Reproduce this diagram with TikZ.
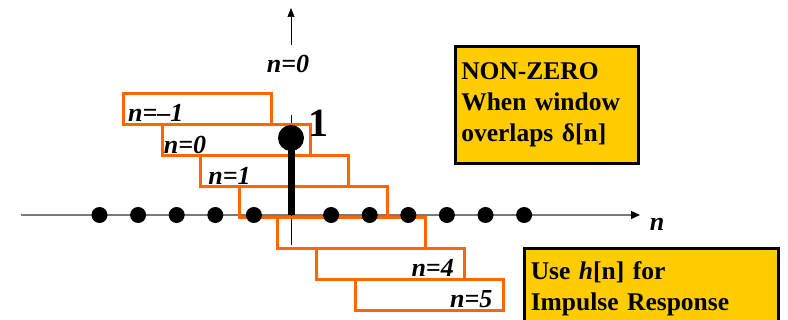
\documentclass[tikz,border=0pt]{standalone}
\usepackage{fontspec}
\setmainfont{Liberation Serif}
\usetikzlibrary{arrows.meta}
\definecolor{winorange}{RGB}{255,102,0}
\definecolor{noteyellow}{RGB}{255,204,0}
\definecolor{axisgray}{RGB}{120,120,120}

\tikzset{
  window/.style={draw=winorange,line width=3pt,minimum width=148pt,minimum height=31pt,
    anchor=north west,inner sep=0pt},
  sample/.style={circle,fill=black,inner sep=0pt,minimum size=16pt},
  nlabel/.style={font=\fontsize{26}{30}\selectfont\bfseries\itshape,inner sep=0pt},
  notebox/.style={draw=black,line width=2.6pt,fill=noteyellow,anchor=north west,
    font=\fontsize{25.5}{31}\selectfont\bfseries,align=left,inner sep=0pt}
}

\begin{document}
\begin{tikzpicture}[x=1pt,y=-1pt]
  \useasboundingbox (0,0) rectangle (788,320);
  \coordinate (L) at (21,215);
  \coordinate (R) at (640,215);
  \coordinate (T) at (291,8);
  \coordinate (B) at (291,45);
  \coordinate (base) at (291,245);
  \coordinate (zero) at (291,215);
  % axes
  \draw[axisgray,line width=1.4pt,-{Triangle[black,length=9pt,width=8pt]}] (L) -- (R);
  \draw[line width=0.6pt,-{Triangle[length=9pt,width=7pt]}] (B) -- (T);
  \draw[line width=0.6pt] (base) -- (291,115);
  % sliding windows
  \foreach \k in {0,...,6}
    \node[window] (w\k) at ({122+38.6*\k},{92+31*\k}) {};
  \node[nlabel,anchor=base west] at ([shift={(6,-4)}]w0.south west) {n=--1};
  \node[nlabel,anchor=base west] at ([shift={(3,-3)}]w1.south west) {n=0};
  \node[nlabel,anchor=base west] at ([shift={(9,-3)}]w2.south west) {n=1};
  \node[nlabel,anchor=base east] at ([shift={(-12,-4)}]w5.south east) {n=4};
  \node[nlabel,anchor=base east] at ([shift={(-12,-4)}]w6.south east) {n=5};
  % samples
  \foreach \k in {-5,...,-1,1,2,...,6}
    \node[sample] (s\k) at ({292.5+38.6*\k},215) {};
  \node[sample,minimum size=26pt] (peak) at (291,138) {};
  \draw[line width=7pt] (zero) -- (peak.center);
  \node[font=\fontsize{40}{44}\selectfont\bfseries,anchor=base west,inner sep=0pt]
    (one) at (308,137) {1};
  \node[nlabel,anchor=base] (top) at (288,73) {n=0};
  \node[nlabel,anchor=base] (axn) at (657,231) {n};
  % notes
  \node[notebox,minimum width=183pt,minimum height=117pt,text width=171pt] (nz)
    at (454,45) {NON-ZERO\\When window\\overlaps δ[n]};
  \node[notebox,minimum width=254pt,minimum height=80pt,text width=241pt] (ir)
    at (523,247) {Use \textit{h}[n] for\\Impulse Response};
\end{tikzpicture}
\end{document}
